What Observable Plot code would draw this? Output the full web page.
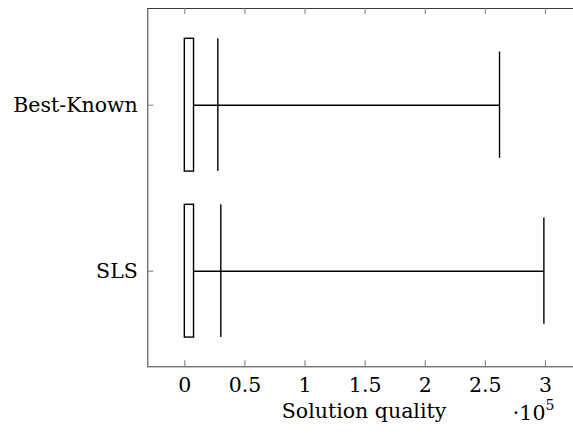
<!DOCTYPE html>
<html>
<head>
<meta charset="utf-8">
<script src="https://cdn.jsdelivr.net/npm/d3@7"></script>
<script src="https://cdn.jsdelivr.net/npm/@observablehq/plot@0.6"></script>
<style>
  html, body { margin: 0; padding: 0; background: #fff; }
  #chart svg { display: block; }
</style>
</head>
<body>
<div id="chart"></div>
<script>
// ---- data ----
const categories = ["SLS", "Best-Known"];
const positions = [1, 2];
const lowerWhisker = [0, 0];
const lowerQuartile = [0, 0];
const upperQuartile = [7650, 7650];
const median = [29950, 27450];
const upperWhisker = [298700, 261800];
const xTicks = [0, 50000, 100000, 150000, 200000, 250000, 300000];
const xLabel = "Solution quality";
const scaleBase = "·10";
const scaleExp = "5";

// ---- layout ----
const W = 573, H = 434;
const mL = 147.3, mR = -6.8, mT = 8, mB = 67.7;
const xDomain = [-30800, 329000];
const yDomain = [0.424, 2.5825];
const boxHalf = 0.4, capHalf = 0.32;
const tickPx = 6;
const frameW = W - mL - mR, frameH = H - mT - mB;
const xTickLen = tickPx * (xDomain[1] - xDomain[0]) / frameW;
const yTickLen = tickPx * (yDomain[1] - yDomain[0]) / frameH;

const rows = categories.map((c, i) => ({
  cat: c, pos: positions[i], lo: lowerWhisker[i], q1: lowerQuartile[i],
  q3: upperQuartile[i], med: median[i], hi: upperWhisker[i]
}));

const font = "DejaVu Serif";
const fs = 20.5;

const plot = Plot.plot({
  width: W, height: H,
  marginLeft: mL, marginRight: mR, marginTop: mT, marginBottom: mB,
  style: { fontSize: fs + "px", background: "white", overflow: "hidden" },
  x: { domain: xDomain, axis: null },
  y: { domain: yDomain, axis: null },
  marks: [
    Plot.frame({ stroke: "#3a3a3a", strokeWidth: 1 }),
    Plot.ruleX(xTicks, { y1: yDomain[0], y2: yDomain[0] + yTickLen, stroke: "#777", strokeWidth: 1 }),
    Plot.ruleX(xTicks, { y1: yDomain[1], y2: yDomain[1] - yTickLen, stroke: "#777", strokeWidth: 1 }),
    Plot.ruleY(positions, { x1: xDomain[0], x2: xDomain[0] + xTickLen, stroke: "#777", strokeWidth: 1 }),
    Plot.ruleY(rows, { y: "pos", x1: "q3", x2: "hi", stroke: "black", strokeWidth: 1.4 }),
    Plot.ruleY(rows, { y: "pos", x1: "lo", x2: "q1", stroke: "black", strokeWidth: 1.4 }),
    Plot.ruleX(rows, { x: "hi", y1: d => d.pos - capHalf, y2: d => d.pos + capHalf, stroke: "black", strokeWidth: 1.4 }),
    Plot.ruleX(rows, { x: "lo", y1: d => d.pos - capHalf, y2: d => d.pos + capHalf, stroke: "black", strokeWidth: 1.4 }),
    Plot.rect(rows, { x1: "q1", x2: "q3", y1: d => d.pos - boxHalf, y2: d => d.pos + boxHalf, fill: "white", stroke: "black", strokeWidth: 1.4 }),
    Plot.ruleX(rows, { x: "med", y1: d => d.pos - boxHalf, y2: d => d.pos + boxHalf, stroke: "black", strokeWidth: 1.4 }),
    Plot.text(xTicks, { x: d => d, frameAnchor: "bottom", dy: 19, lineAnchor: "middle", text: d => String(d / 1e5), fill: "black", fontFamily: font }),
    Plot.text(rows, { y: "pos", frameAnchor: "left", dx: -10, textAnchor: "end", lineAnchor: "middle", text: "cat", fill: "black", fontFamily: font }),
    Plot.text([xLabel], { frameAnchor: "bottom", dy: 45, lineAnchor: "middle", text: d => d, fill: "black", fontFamily: font }),
    Plot.text([scaleBase], { x: xTicks[xTicks.length - 1], frameAnchor: "bottom", dy: 47, textAnchor: "end", lineAnchor: "middle", text: d => d, fill: "black", fontFamily: font }),
    Plot.text([scaleExp], { x: xTicks[xTicks.length - 1], frameAnchor: "bottom", dy: 39, textAnchor: "start", lineAnchor: "middle", text: d => d, fill: "black", fontSize: 14, fontFamily: font })
  ]
});
document.getElementById("chart").appendChild(plot);
</script>
</body>
</html>
